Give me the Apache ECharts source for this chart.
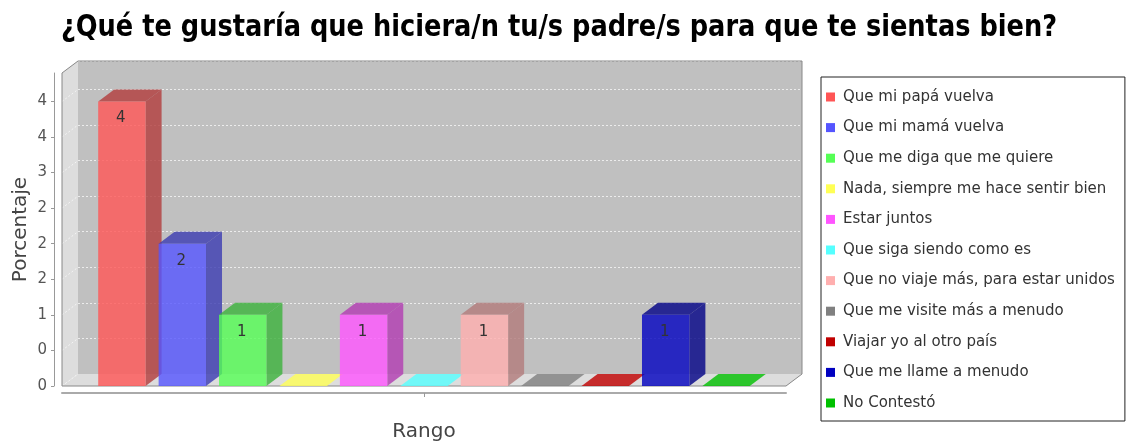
<!DOCTYPE html>
<html>
<head>
<meta charset="utf-8">
<script src="https://cdn.jsdelivr.net/npm/echarts@6/dist/echarts.min.js"></script>
<style>
  html, body { margin: 0; padding: 0; background: #fff; }
  #chart { width: 1131px; height: 443px; }
</style>
</head>
<body>
<div id="chart"></div>
<script>
const chartTitle = '¿Qué te gustaría que hiciera/n tu/s padre/s para que te sientas bien?';
const categories = [''];
const xAxisName = 'Rango';
const yAxisName = 'Porcentaje';
const seriesNames = [
  'Que mi papá vuelva',
  'Que mi mamá vuelva',
  'Que me diga que me quiere',
  'Nada, siempre me hace sentir bien',
  'Estar juntos',
  'Que siga siendo como es',
  'Que no viaje más, para estar unidos',
  'Que me visite más a menudo',
  'Viajar yo al otro país',
  'Que me llame a menudo',
  'No Contestó'
];
const seriesValues = [4, 2, 1, 0, 1, 0, 1, 0, 0, 1, 0];
const seriesColors = ['#FF5555', '#5555FF', '#55FF55', '#FFFF55', '#FF55FF', '#55FFFF',
  '#FFAFAF', '#808080', '#C00000', '#0000C0', '#00C000'];
const yTickValues = [0, 0.5, 1, 1.5, 2, 2.5, 3, 3.5, 4];
const yTickLabels = ['0', '0', '1', '2', '2', '2', '3', '4', '4'];
const yMax = 4.4;

// plot geometry (front face) and 3D depth
const G = { left: 62, top: 73, width: 724, height: 313 };
const DX = 16, DY = 12;
const CAT_MARGIN = 0.05, ITEM_MARGIN = 0.2, ALPHA = 0.8;

function rgba(hex, k) {
  const n = parseInt(hex.slice(1), 16);
  const r = Math.floor(((n >> 16) & 255) * k);
  const g = Math.floor(((n >> 8) & 255) * k);
  const b = Math.floor((n & 255) * k);
  return 'rgba(' + r + ',' + g + ',' + b + ',' + ALPHA + ')';
}

function drawBar(i, api) {
  const n = seriesNames.length;
  const base = api.coord([api.value(0), 0]);
  const top = api.coord([api.value(0), api.value(1)]);
  const band = api.size([1, 0])[0];
  const inner = band * (1 - 2 * CAT_MARGIN);
  const barW = inner * (1 - ITEM_MARGIN) / n;
  const gap = inner * ITEM_MARGIN / (n - 1);
  const x0 = base[0] - band / 2 + band * CAT_MARGIN + i * (barW + gap);
  const x1 = x0 + barW;
  const yb = base[1], yt = top[1];
  const col = seriesColors[i];
  if (api.value(1) === 0) {
    return { type: 'polygon', shape: { points: [[x0, yb], [x1, yb], [x1 + DX, yb - DY], [x0 + DX, yb - DY]] },
      style: { fill: rgba(col, 1) } };
  }
  return {
    type: 'group',
    children: [
      { type: 'polygon', shape: { points: [[x1, yt], [x1 + DX, yt - DY], [x1 + DX, yb - DY], [x1, yb]] },
        style: { fill: rgba(col, 0.7) } },
      { type: 'polygon', shape: { points: [[x0, yt], [x1, yt], [x1 + DX, yt - DY], [x0 + DX, yt - DY]] },
        style: { fill: rgba(col, 0.7) } },
      { type: 'rect', shape: { x: x0, y: yt, width: barW, height: yb - yt },
        style: { fill: rgba(col, 1) } },
      { type: 'text', style: { text: String(api.value(1)), x: (x0 + x1) / 2 - 1, y: yt + 17,
        textAlign: 'center', textVerticalAlign: 'middle', font: '15px "DejaVu Sans"', fill: '#333' } }
    ]
  };
}

const chart = echarts.init(document.getElementById('chart'));
chart.setOption({
  animation: false,
  backgroundColor: '#fff',
  legend: {
    orient: 'vertical',
    left: 821,
    top: 77,
    padding: [12, 10, 10, 5],
    itemGap: 14.6,
    itemWidth: 9,
    itemHeight: 9,
    icon: 'rect',
    backgroundColor: '#fff',
    borderColor: '#222',
    borderWidth: 1,
    borderRadius: 0,
    textStyle: { fontFamily: '"DejaVu Sans"', fontSize: 15, lineHeight: 16, color: '#333', padding: [0, 0, 0, 3] },
    data: seriesNames
  },
  grid: [
    { left: G.left, top: G.top, width: G.width, height: G.height, containLabel: false, outerBoundsMode: 'none' },
    { left: G.left + DX, top: G.top - DY, width: G.width, height: G.height, show: true,
      backgroundColor: '#C0C0C0', borderWidth: 0, containLabel: false, outerBoundsMode: 'none' }
  ],
  xAxis: [
    { type: 'category', gridIndex: 0, data: categories, offset: 7,
      name: xAxisName, nameLocation: 'middle', nameGap: 29, nameMoveOverlap: false,
      nameTextStyle: { fontFamily: '"DejaVu Sans"', fontSize: 20, color: '#444' },
      axisLine: { show: true, onZero: false, lineStyle: { color: '#aaa', width: 2 } },
      axisTick: { show: true, alignWithLabel: true, length: 4, lineStyle: { color: '#999' } },
      axisLabel: { show: false }, splitLine: { show: false } },
    { type: 'category', gridIndex: 1, data: categories, show: false }
  ],
  yAxis: [
    { type: 'value', gridIndex: 0, min: 0, max: yMax, interval: 0.5, offset: 8,
      name: yAxisName, nameLocation: 'middle', nameGap: 23, nameRotate: 90, nameMoveOverlap: false,
      nameTextStyle: { fontFamily: '"DejaVu Sans"', fontSize: 20, color: '#444' },
      axisLine: { show: true, lineStyle: { color: '#999' } },
      axisTick: { show: true, length: 3, customValues: yTickValues, lineStyle: { color: '#999' } },
      axisLabel: { customValues: yTickValues, margin: 7, fontFamily: '"DejaVu Sans"', fontSize: 15, color: '#555',
        formatter: v => { const k = yTickValues.indexOf(v); return k < 0 ? '' : yTickLabels[k]; } },
      splitLine: { show: false } },
    { type: 'value', gridIndex: 1, min: 0, max: yMax, interval: 0.5,
      axisLine: { show: false }, axisTick: { show: false }, axisLabel: { show: false },
      splitLine: { show: true, lineStyle: { color: '#ececec', type: [2, 2], width: 1 } } }
  ],
  series: seriesNames.map((name, i) => ({
    name: name,
    type: 'custom',
    xAxisIndex: 0,
    yAxisIndex: 0,
    itemStyle: { color: seriesColors[i] },
    renderItem: (params, api) => drawBar(i, api),
    data: [[0, seriesValues[i]]]
  })).concat([{ type: 'line', xAxisIndex: 1, yAxisIndex: 1, data: [], silent: true }])
});

// walls, floor and outline of the 3D plot box, plus the narrow bold title
const yb = chart.convertToPixel({ yAxisIndex: 0 }, 0);
const yt = chart.convertToPixel({ yAxisIndex: 0 }, yMax);
const xl = G.left, xr = G.left + G.width;
const wallLines = yTickValues.map(v => {
  const y = chart.convertToPixel({ yAxisIndex: 0 }, v);
  return { type: 'line', z: 1, shape: { x1: xl, y1: y, x2: xl + DX, y2: y - DY },
    style: { stroke: '#f4f4f4', lineDash: [2, 2], lineWidth: 1 } };
});
chart.setOption({
  graphic: [
    { type: 'text', x: 559, y: 28, scaleX: 0.92, z: 5,
      style: { text: chartTitle, font: 'bold 31px "DejaVu Sans Condensed", "DejaVu Sans", sans-serif',
        fill: '#000', textAlign: 'center', textVerticalAlign: 'middle' } },
    { type: 'polygon', z: 1, shape: { points: [[xl, yt], [xl, yb], [xl + DX, yb - DY], [xl + DX, yt - DY]] },
      style: { fill: '#DDDDDD' } },
    { type: 'polygon', z: 1, shape: { points: [[xl, yb], [xr, yb], [xr + DX, yb - DY], [xl + DX, yb - DY]] },
      style: { fill: '#DDDDDD' } }
  ].concat(wallLines).concat([
    { type: 'polyline', z: 1, shape: { points: [[xl, yb], [xl, yt], [xl + DX, yt - DY], [xr + DX, yt - DY],
      [xr + DX, yb - DY], [xr, yb], [xl, yb]] },
      style: { stroke: '#888', fill: null, lineWidth: 1 } }
  ])
});
</script>
</body>
</html>
